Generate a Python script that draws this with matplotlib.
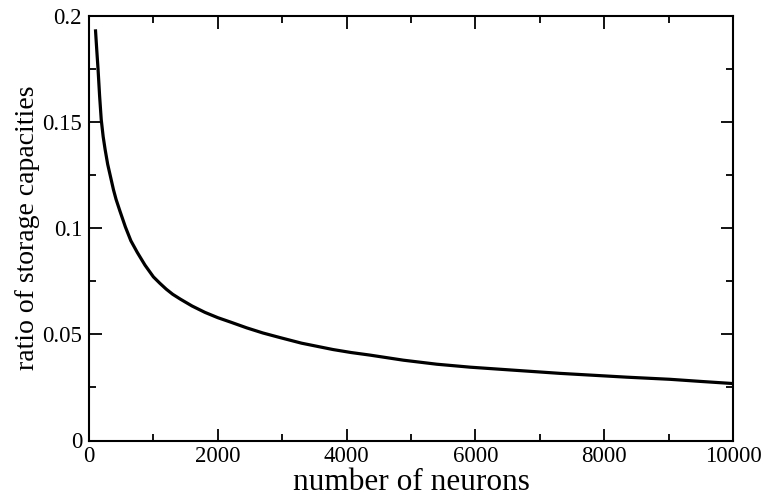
import matplotlib
matplotlib.use("Agg")
import matplotlib.pyplot as plt
from matplotlib.ticker import MultipleLocator

neurons = [100, 120, 140, 165, 190, 220, 250, 290, 335, 380, 420, 480, 565,
           650, 750, 870, 1000, 1100, 1200, 1300, 1420, 1600, 1800, 2000,
           2200, 2450, 2700, 2970, 3300, 3790, 4070, 4360, 4880, 5400, 5920,
           6540, 7310, 7830, 8350, 9020, 9500, 10000]
ratio = [0.1935, 0.184, 0.175, 0.162, 0.151, 0.143, 0.137, 0.130, 0.124,
         0.118, 0.1135, 0.108, 0.1005, 0.094, 0.0885, 0.0825, 0.0770,
         0.0740, 0.0712, 0.0688, 0.0665, 0.0633, 0.0603, 0.0578, 0.0557,
         0.0530, 0.0506, 0.0484, 0.0458, 0.0428, 0.0414, 0.0402, 0.0378,
         0.0359, 0.0345, 0.0332, 0.0316, 0.0307, 0.0298, 0.0288, 0.0278,
         0.0268]

xticks = [0, 2000, 4000, 6000, 8000, 10000]
yticks = [0, 0.05, 0.1, 0.15, 0.2]
ytick_labels = ["0", "0.05", "0.1", "0.15", "0.2"]

plt.rcParams['font.family'] = ['Liberation Serif', 'DejaVu Serif']

fig = plt.figure(figsize=(7.68, 5.01), dpi=100)
ax = fig.add_axes([89/768, 1-440.5/501, (733-89)/768, (440.5-15.5)/501])
ax.plot(neurons, ratio, color='black', lw=2.3, solid_capstyle='butt',
        solid_joinstyle='round')
ax.set_xlim(0, 10000)
ax.set_ylim(0, 0.2)
ax.set_xticks(xticks)
ax.set_xticklabels([str(t) for t in xticks])
ax.set_yticks(yticks)
ax.set_yticklabels(ytick_labels)
ax.xaxis.set_minor_locator(MultipleLocator(1000))
ax.yaxis.set_minor_locator(MultipleLocator(0.025))
ax.tick_params(which='both', direction='in', top=True, right=True,
               width=1.3, labelsize=16.5, colors='black')
ax.tick_params(which='major', length=9)
ax.tick_params(which='minor', length=5)
ax.tick_params(axis='x', pad=4)
ax.tick_params(axis='y', pad=5)
for s in ax.spines.values():
    s.set_linewidth(1.5)
ax.set_xlabel("number of neurons", fontsize=22.5)
ax.set_ylabel("ratio of storage capacities", fontsize=20)
# label centres: x label at y~482px, y label at x~28px
ax.xaxis.set_label_coords(0.5, -(482 - 440.5) / 425, transform=ax.transAxes)
ax.yaxis.set_label_coords(-(89 - 28) / 644, 0.5, transform=ax.transAxes)
ax.xaxis.label.set_va('center')
ax.yaxis.label.set_va('center')
fig.savefig("out.png", dpi=100)
